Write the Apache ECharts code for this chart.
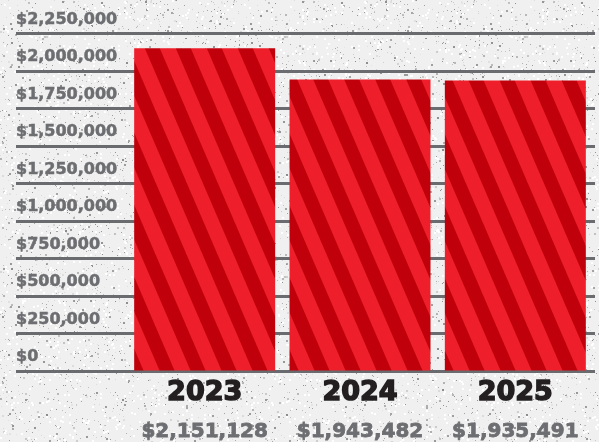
<!DOCTYPE html>
<html>
<head>
<meta charset="utf-8">
<script src="https://cdn.jsdelivr.net/npm/echarts@6/dist/echarts.min.js"></script>
<style>
html,body{margin:0;padding:0;}
#chart{width:599px;height:442px;}
</style>
</head>
<body>
<div id="chart"></div>
<script>
// ---- data ----
const years = ['2023', '2024', '2025'];
const totals = [2151128, 1943482, 1935491];
const yTicks = { min: 0, max: 2250000, step: 250000 };

// ---- decorative textures ----
function speckle() {
  const c = document.createElement('canvas');
  c.width = 240; c.height = 240;
  const g = c.getContext('2d');
  g.fillStyle = '#f0f0f0';
  g.fillRect(0, 0, 240, 240);
  let s = 12345;
  const rnd = () => { s = (s * 1103515245 + 12345) & 0x7fffffff; return s / 0x7fffffff; };
  for (let i = 0; i < 1600; i++) {
    const v = Math.floor(140 + rnd() * 90);
    g.fillStyle = 'rgb(' + v + ',' + v + ',' + v + ')';
    const sz = rnd() < 0.8 ? 1 : 2;
    g.fillRect(Math.floor(rnd() * 240), Math.floor(rnd() * 240), sz, sz);
  }
  for (let i = 0; i < 700; i++) {
    g.fillStyle = '#ffffff';
    g.fillRect(Math.floor(rnd() * 240), Math.floor(rnd() * 240), 2, 2);
  }
  return c.toDataURL();
}
document.getElementById('chart').style.background = 'url(' + speckle() + ')';

function stripes() {
  const P = 31, H = 72, W = 15;
  const c = document.createElement('canvas');
  c.width = P; c.height = H;
  const g = c.getContext('2d');
  g.fillStyle = '#ee1f2b';
  g.fillRect(0, 0, P, H);
  g.fillStyle = '#c0000b';
  for (let k = -3; k <= 2; k++) {
    const x0 = k * P;
    g.beginPath();
    g.moveTo(x0, 0);
    g.lineTo(x0 + W, 0);
    g.lineTo(x0 + W + P, H);
    g.lineTo(x0 + P, H);
    g.closePath();
    g.fill();
  }
  return c;
}
const stripePattern = { image: stripes(), repeat: 'repeat' };

const grey = '#6d6e71';
const fmtMoney = v => '$' + Number(v).toLocaleString('en-US');

const chart = echarts.init(document.getElementById('chart'), null, { renderer: 'canvas' });
chart.setOption({
  backgroundColor: 'transparent',
  animation: false,
  grid: [
    { left: 16, right: 4, top: 33.5, bottom: 71 },
    { left: 127, right: 6, top: 33.5, bottom: 71 }
  ],
  xAxis: [
    { gridIndex: 0, type: 'category', data: [''], show: false },
    {
      gridIndex: 1, type: 'category', data: years,
      axisLine: { show: false }, axisTick: { show: false },
      axisLabel: {
        margin: 6,
        formatter: (v, i) => '{y|' + v + '}\n{v|' + fmtMoney(totals[i]) + '}',
        rich: {
          y: { fontFamily: 'DejaVu Sans', fontWeight: 'bold', fontSize: 27, color: '#231f20', lineHeight: 32,
               textBorderColor: '#231f20', textBorderWidth: 1.5 },
          v: { fontFamily: 'DejaVu Sans', fontWeight: 'bold', fontSize: 20, color: grey, lineHeight: 46,
               textBorderColor: grey, textBorderWidth: 0.8 }
        }
      }
    }
  ],
  yAxis: [
    {
      gridIndex: 0, type: 'value', min: yTicks.min, max: yTicks.max, interval: yTicks.step,
      axisLine: { show: false }, axisTick: { show: false },
      axisLabel: {
        inside: true, margin: 0, align: 'left', verticalAlign: 'bottom',
        lineHeight: 16, padding: [0, 0, 6, 0],
        fontFamily: 'DejaVu Sans', fontWeight: 'bold', fontSize: 16, color: grey,
        textBorderColor: grey, textBorderWidth: 0.5,
        formatter: v => fmtMoney(v)
      },
      splitLine: { show: true, lineStyle: { color: '#6a6b6e', width: 3 } }
    },
    {
      gridIndex: 1, type: 'value', min: yTicks.min, max: yTicks.max, interval: yTicks.step,
      show: false, splitLine: { show: false }
    }
  ],
  series: [{
    type: 'bar',
    xAxisIndex: 1, yAxisIndex: 1,
    data: totals,
    barWidth: 141,
    itemStyle: { color: stripePattern }
  }]
});
</script>
</body>
</html>
